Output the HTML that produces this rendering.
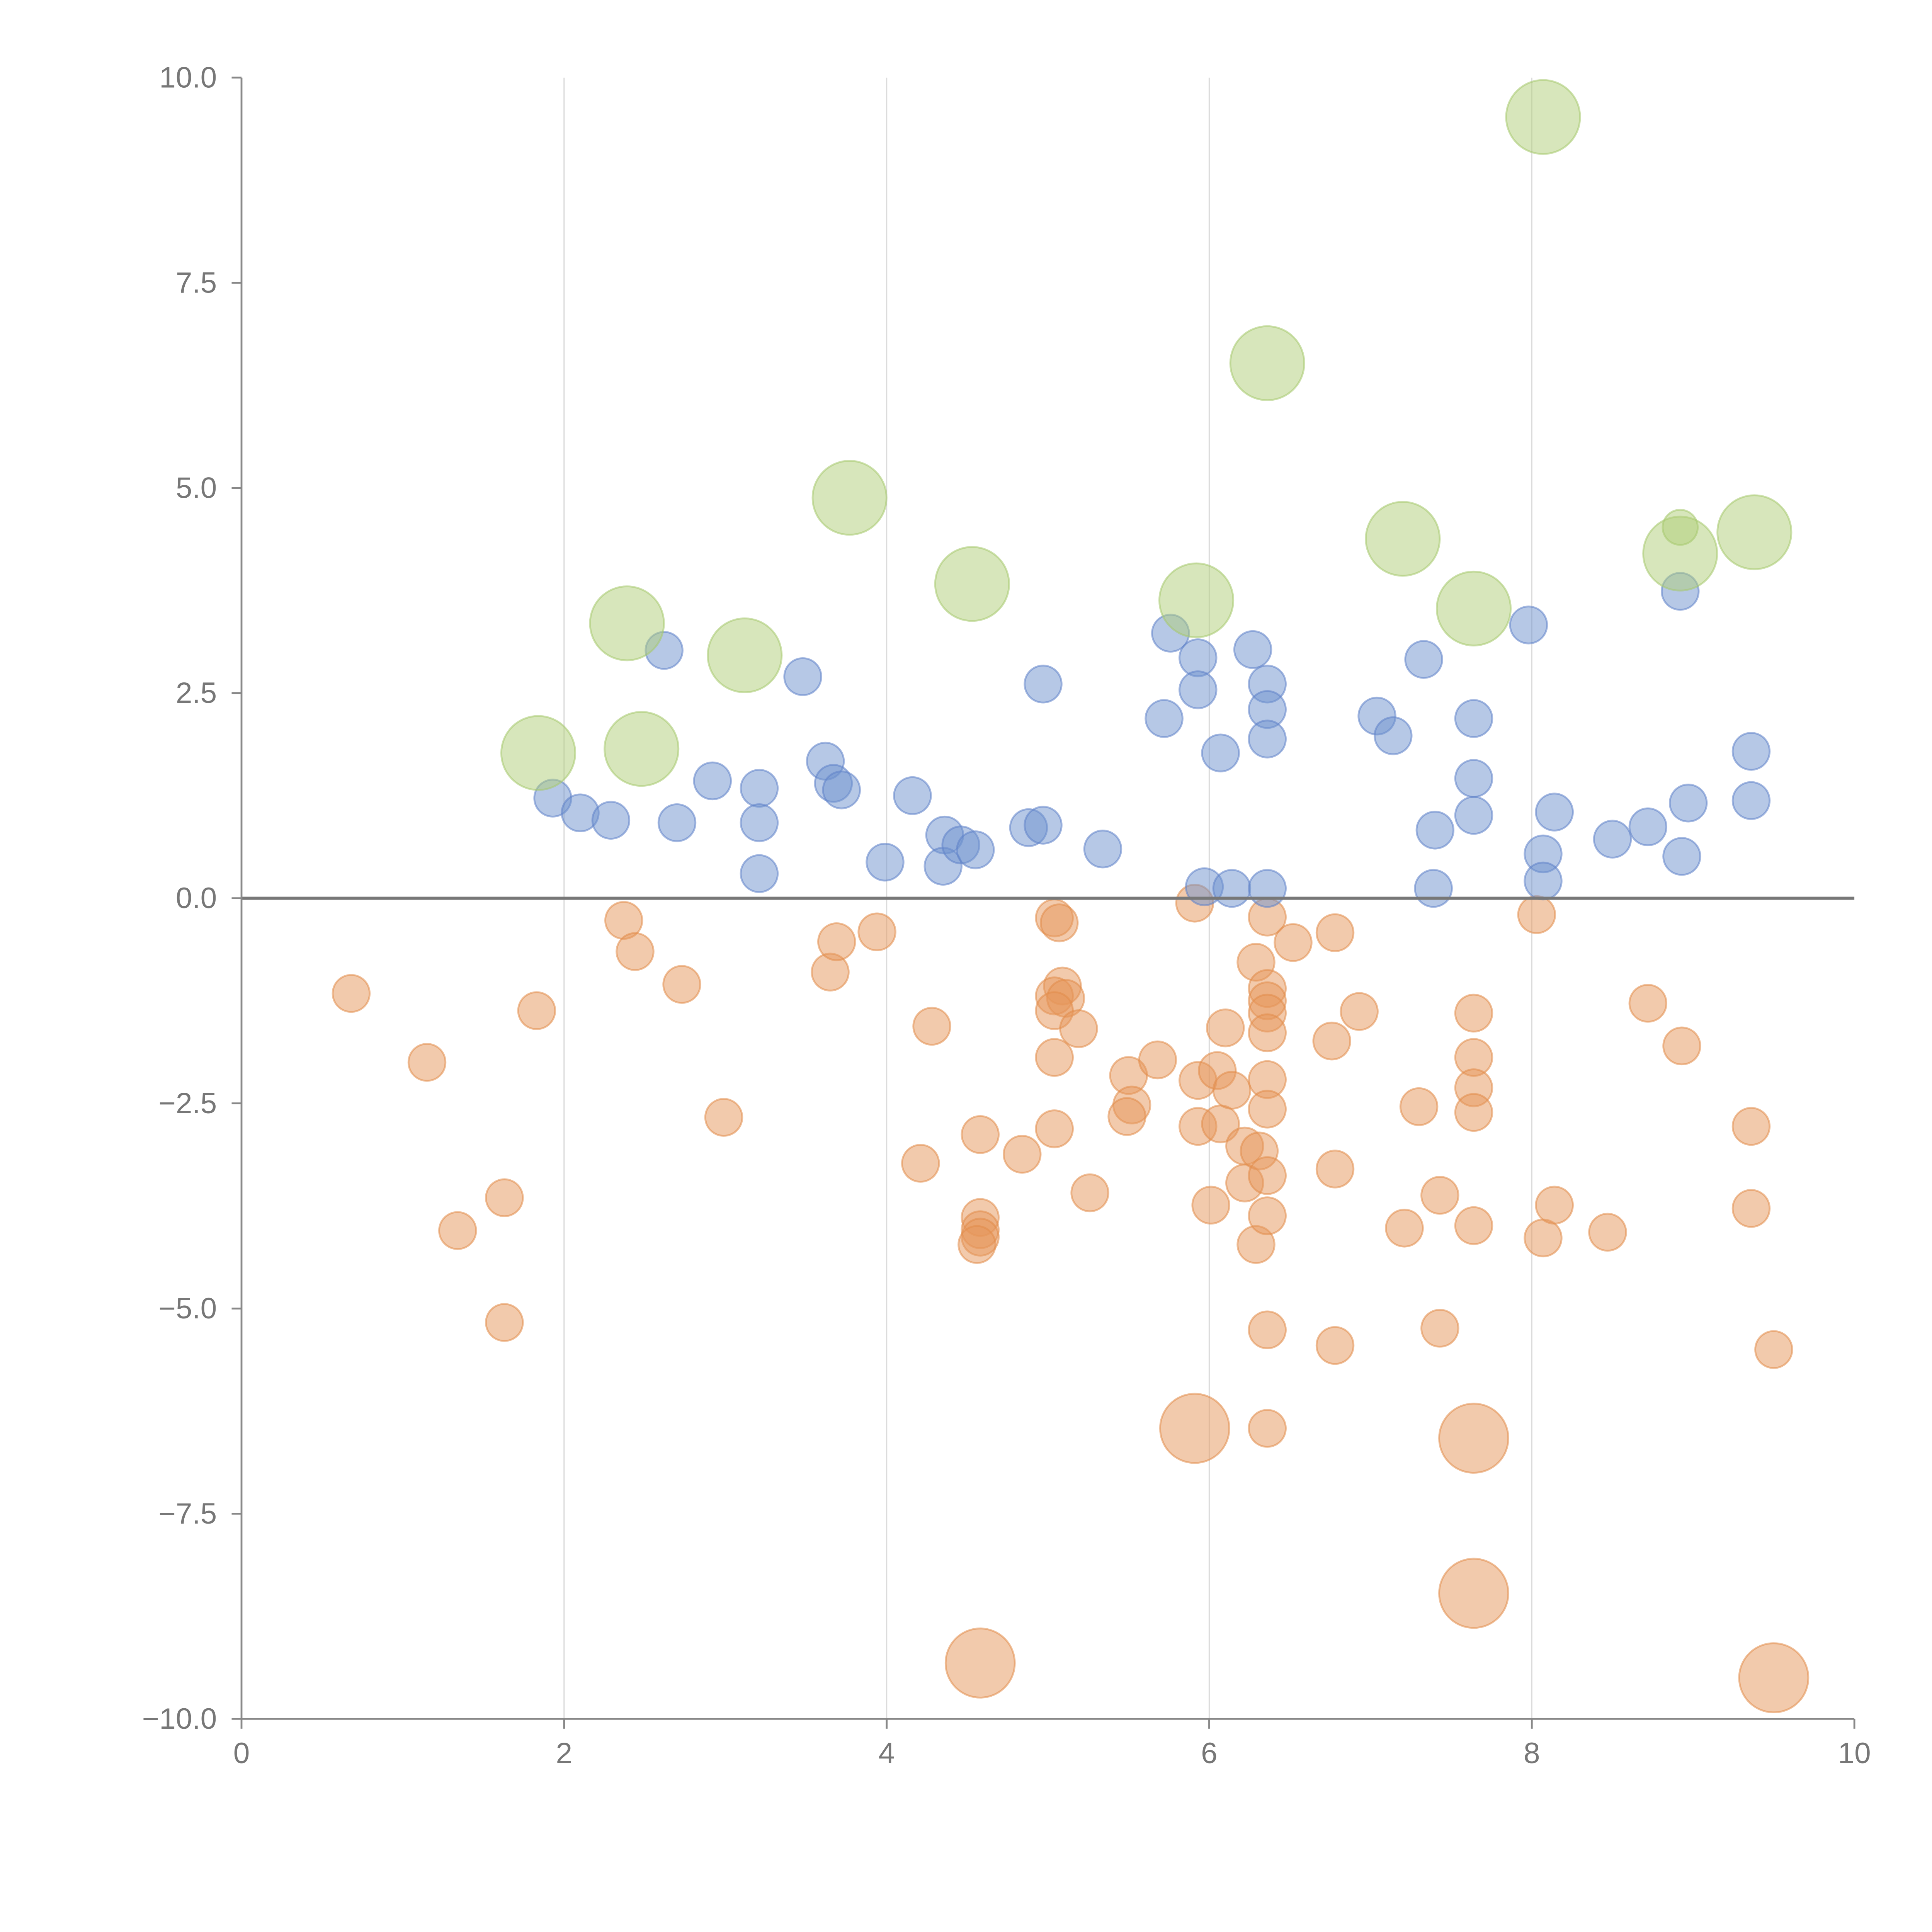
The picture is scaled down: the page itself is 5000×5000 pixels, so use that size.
<!DOCTYPE html>
<html><head><meta charset="utf-8">
<style>html,body{margin:0;padding:0;background:#fff}svg{display:block}</style></head>
<body>
<svg id="chart" width="5000" height="5000" viewBox="0 0 1568 1568" xmlns="http://www.w3.org/2000/svg" font-family="Liberation Sans, sans-serif">
<g id="grid"></g>
<g id="marks"></g>
<g id="axes"></g>
</svg>
<script>
const xTicks=[0,2,4,6,8,10];
const yTicks=[-10,-7.5,-5,-2.5,0,2.5,5,7.5,10];
const blueX=[1.93,2.10,2.29,2.62,2.70,2.92,3.21,3.21,3.21,3.48,3.62,3.67,3.72,3.99,4.16,4.36,4.35,4.46,4.55,4.88,4.97,4.97,5.34,5.76,5.72,5.93,5.93,5.97,6.07,6.14,6.27,6.36,6.36,6.36,6.36,7.04,7.14,7.33,7.40,7.39,7.64,7.64,7.64,7.98,8.07,8.07,8.14,8.50,8.72,8.92,8.93,8.97,9.36,9.36];
const blueY=[1.22,1.04,0.95,3.02,0.92,1.43,1.34,0.92,0.30,2.70,1.67,1.40,1.32,0.44,1.25,0.77,0.39,0.65,0.59,0.86,0.89,2.61,0.60,3.23,2.19,2.93,2.54,0.14,1.77,0.12,3.03,2.61,2.30,1.94,0.12,2.22,1.98,2.91,0.83,0.12,2.19,1.46,1.01,3.33,0.54,0.21,1.05,0.72,0.87,3.74,0.51,1.16,1.79,1.19];
const greenX=[1.84,2.39,2.48,3.12,3.77,4.53,5.92,6.36,7.20,7.64,8.07,8.92,9.38,8.92];
const greenY=[1.77,3.35,1.82,2.96,4.88,3.83,3.63,6.52,4.38,3.53,9.52,4.20,4.46,4.52];
const greenS=[4,4,4,4,4,4,4,4,4,4,4,4,4,0.9];
const orangeX=[0.68,1.15,1.34,1.63,1.63,1.83,2.37,2.44,2.73,2.99,3.65,3.69,3.94,4.21,4.28,4.58,4.58,4.58,4.58,4.56,4.84,5.04,5.07,5.09,5.04,5.11,5.04,5.19,5.04,5.04,5.26,5.50,5.52,5.49,5.68,5.91,5.93,5.93,6.01,6.05,6.07,6.10,6.14,6.22,6.22,6.29,6.29,6.31,6.36,6.36,6.36,6.36,6.36,6.36,6.36,6.36,6.36,6.36,6.36,6.52,6.76,6.78,6.78,6.78,6.93,7.21,7.30,7.43,7.43,7.64,7.64,7.64,7.64,7.64,8.03,8.07,8.14,8.47,8.72,8.93,9.36,9.36,9.50,5.91,7.64,7.64,4.58,9.50];
const orangeY=[-1.16,-2.00,-4.05,-3.65,-5.17,-1.37,-0.27,-0.65,-1.05,-2.67,-0.90,-0.53,-0.41,-3.23,-1.56,-2.88,-3.89,-4.04,-4.13,-4.22,-3.12,-0.24,-0.30,-1.07,-1.19,-1.22,-1.37,-1.59,-1.94,-2.81,-3.59,-2.16,-2.52,-2.66,-1.97,-0.06,-2.22,-2.78,-3.74,-2.10,-2.75,-1.58,-2.34,-3.02,-3.47,-0.78,-4.22,-3.08,-0.23,-1.10,-1.25,-1.40,-1.64,-2.21,-2.57,-3.38,-3.87,-5.26,-6.46,-0.54,-1.74,-0.42,-3.30,-5.45,-1.38,-4.02,-2.54,-3.62,-5.24,-1.40,-1.94,-2.31,-2.61,-3.99,-0.20,-4.14,-3.74,-4.07,-1.28,-1.80,-2.78,-3.78,-5.50,-6.46,-6.58,-8.47,-9.32,-9.50];
const orangeBig=5;
const X0=196,X1=1505,Y0=1395,Y1=63;
const xs=v=>X0+(v-0)/(10-0)*(X1-X0);
const ys=v=>Y0-(v+10)/20*(Y0-Y1);
const rOf=s=>15*Math.sqrt(s);
const NS='http://www.w3.org/2000/svg';
function mk(tag,attrs,parent){const e=document.createElementNS(NS,tag);for(const k in attrs)e.setAttribute(k,attrs[k]);parent.appendChild(e);return e;}
const grid=document.getElementById('grid'),marks=document.getElementById('marks'),axes=document.getElementById('axes');
xTicks.forEach(t=>{if(t===0||t===10)return;
 const l=mk('line',{x1:xs(t),x2:xs(t),y1:Y1,y2:Y0,stroke:'#dcdcdc','stroke-width':1},grid);
 
 });
function series(xa,ya,sa,fill,stroke,name){
 xa.forEach((x,i)=>{const c=mk('circle',{cx:xs(x),cy:ys(ya[i]),r:rOf(sa(i)),fill:fill,stroke:stroke,'stroke-width':1.5},marks);
 
 });}
series(orangeX,orangeY,i=>i>=orangeX.length-orangeBig?3.5:1,'rgba(230,150,90,0.5)','rgba(225,140,75,0.55)','orange-bubble');
series(blueX,blueY,()=>1,'rgba(110,145,205,0.5)','rgba(95,130,200,0.55)','blue-bubble');
series(greenX,greenY,i=>greenS[i],'rgba(175,205,120,0.5)','rgba(165,200,110,0.55)','green-bubble');
const z=mk('line',{x1:X0,x2:X1,y1:ys(0),y2:ys(0),stroke:'#777','stroke-width':2.5},axes);


const ya=mk('line',{x1:X0,x2:X0,y1:Y1,y2:Y0,stroke:'#888','stroke-width':1.5},axes);


const xa=mk('line',{x1:X0,x2:X1,y1:Y0,y2:Y0,stroke:'#888','stroke-width':1.5},axes);


yTicks.forEach(t=>{const y=ys(t);
 const tk=mk('line',{x1:X0-8,x2:X0,y1:y,y2:y,stroke:'#888','stroke-width':1.5},axes);
 
 
 const tx=mk('text',{x:X0-20,y:y+8,'text-anchor':'end','font-size':24,fill:'#777'},axes);
 tx.textContent=(t<0?'\u2212':'')+Math.abs(t).toFixed(1);
 
 });
xTicks.forEach(t=>{const x=xs(t);
 const tk=mk('line',{x1:x,x2:x,y1:Y0,y2:Y0+8,stroke:'#888','stroke-width':1.5},axes);
 
 
 const tx=mk('text',{x:x,y:Y0+36,'text-anchor':'middle','font-size':24,fill:'#777'},axes);
 tx.textContent=String(t);
 
 });
</script>
</body></html>
